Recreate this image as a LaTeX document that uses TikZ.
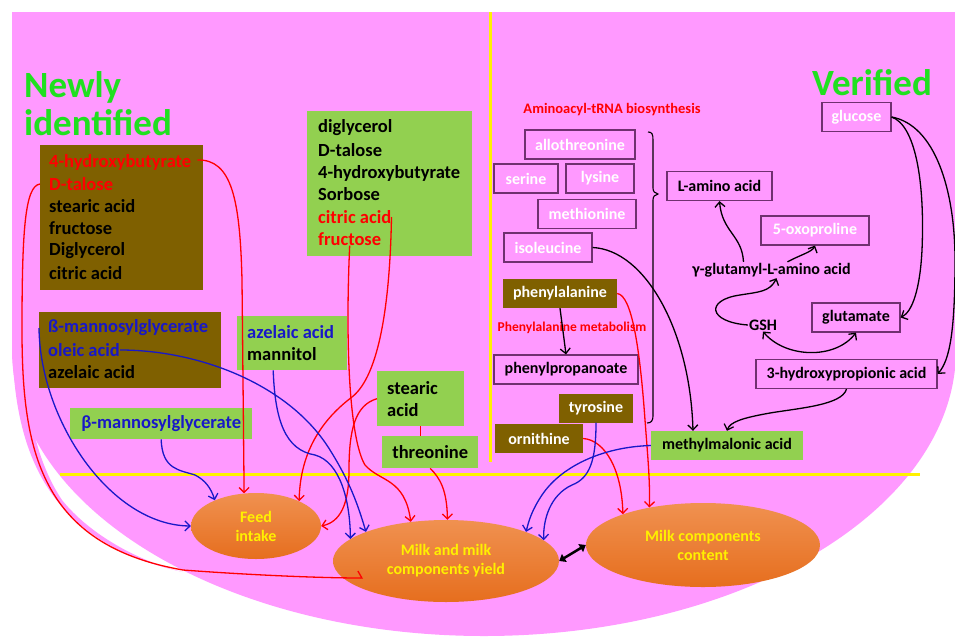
\documentclass[tikz,border=0pt]{standalone}
\usepackage{fontspec}
\setmainfont{Carlito}
\usetikzlibrary{arrows.meta,shapes.geometric,calc}

\definecolor{bgpink}{RGB}{255,153,255}
\definecolor{mudbrown}{RGB}{127,96,0}
\definecolor{leafgreen}{RGB}{146,208,80}
\definecolor{headgreen}{RGB}{32,224,32}
\definecolor{frame}{RGB}{112,48,112}
\definecolor{inkblue}{RGB}{24,24,200}
\definecolor{inkred}{RGB}{255,0,0}
\definecolor{ovaltop}{RGB}{240,145,80}
\definecolor{ovalbot}{RGB}{230,110,30}
\definecolor{sunyellow}{RGB}{255,240,0}

\tikzset{
  every node/.style={font=\bfseries\fontsize{16}{19}\selectfont},
  heading/.style={text=headgreen, inner sep=0pt, font=\bfseries\fontsize{37}{40}\selectfont},
  item/.style={anchor=west, inner sep=0pt, font=\bfseries\fontsize{18.5}{21}\selectfont},
  mudbox/.style={fill=mudbrown, anchor=north west, inner sep=0pt},
  leafbox/.style={fill=leafgreen, anchor=north west, inner sep=0pt},
  tag/.style={draw=frame, line width=1.2pt, text=white, inner sep=0pt, minimum height=29pt},
  mudtag/.style={fill=mudbrown, text=white, inner sep=0pt, minimum height=29pt},
  leaftag/.style={fill=leafgreen, inner sep=0pt, minimum height=29pt},
  oval/.style={ellipse, top color=ovaltop, bottom color=ovalbot, text=sunyellow,
    align=center, inner sep=0pt, font=\bfseries\fontsize{16}{19}\selectfont},
  pathway/.style={text=inkred, inner sep=0pt, font=\bfseries\fontsize{14.5}{16}\selectfont},
  redlink/.style={inkred, line width=1.3pt, -{Straight Barb[length=5pt,width=10pt]}},
  bluelink/.style={inkblue, line width=1.3pt, -{Straight Barb[length=5pt,width=10pt]}},
  blacklink/.style={black, line width=1.3pt, -{Straight Barb[length=5pt,width=10pt]}},
}

\begin{document}
\begin{tikzpicture}[x=1pt,y=-1pt]
  \useasboundingbox (0,0) rectangle (955,640);
  \fill[white] (0,0) rectangle (955,640);

  % background
  \fill[bgpink] (12,12) rectangle (955,350);
  \fill[bgpink] (484,350) ellipse [x radius=472pt, y radius=286pt];
  \fill[bgpink] (12,340) .. controls (14,440) and (38,540) .. (183,572)
    .. controls (140,562) and (90,535) .. (62,500)
    .. controls (42,470) and (30,430) .. (26,380) -- cycle;
  \draw[yellow, line width=3pt] (490,12) -- (490,462);
  \draw[yellow, line width=3pt] (60,474) -- (920,474);

  % titles
  \node[heading, anchor=west] (newly) at (24,87) {Newly};
  \node[heading, anchor=west] (ident) at (24,123) {identified};
  \node[heading] (verif) at (872,83) {Verified};

  % newly identified
  \node[mudbox, minimum width=163pt, minimum height=145pt] (mixbox) at (40,145) {};
  \node[item, text=inkred] (hb) at (49,162) {4-hydroxybutyrate};
  \node[item, text=inkred] (tal) at (49,184) {D-talose};
  \node[item] (sta) at (49,206) {stearic acid};
  \node[item] (fru) at (49,228) {fructose};
  \node[item] (dig) at (49,251) {Diglycerol};
  \node[item] (cit) at (49,273) {citric acid};

  \node[leafbox, minimum width=165pt, minimum height=145pt] (sugbox) at (307,111) {};
  \node[item] (dgl) at (318,128) {diglycerol};
  \node[item] (dtl) at (318,150) {D-talose};
  \node[item] (hbt) at (318,173) {4-hydroxybutyrate};
  \node[item] (sor) at (318,194) {Sorbose};
  \node[item, text=inkred] (cac) at (318,217) {citric acid};
  \node[item, text=inkred] (frc) at (318,239) {fructose};

  \node[mudbox, minimum width=182pt, minimum height=76pt] (oilbox) at (39,312) {};
  \node[item, text=inkblue] (man) at (48,328) {ß-mannosylglycerate};
  \node[item, text=inkblue] (ole) at (48,350) {oleic acid};
  \node[item] (aze) at (48,372) {azelaic acid};

  \node[leafbox, minimum width=110pt, minimum height=54pt] (azbox) at (237,316) {};
  \node[item, text=inkblue] (aza) at (247,332) {azelaic acid};
  \node[item] (mnt) at (247,354) {mannitol};

  \node[leafbox, minimum width=182pt, minimum height=31pt, text=inkblue,
    font=\bfseries\fontsize{18.5}{21}\selectfont] (betabox) at (70,408) {β-mannosylglycerate};

  \node[leafbox, minimum width=87pt, minimum height=55pt] (stbox) at (377,371) {};
  \node[item] (st1) at (387,388) {stearic};
  \node[item] (st2) at (387,410) {acid};
  \node[leafbox, minimum width=96pt, minimum height=32pt,
    font=\bfseries\fontsize{18.5}{21}\selectfont] (thr) at (382,436) {threonine};

  % effects
  \node[oval, minimum width=130pt, minimum height=66pt] (feed) at (256,526) {Feed\\intake};
  \node[oval, minimum width=226pt, minimum height=82pt] (yield) at (446,561) {Milk and milk\\components yield};
  \node[oval, minimum width=234pt, minimum height=84pt] (content) at (703,545) {Milk components\\content};

  % verified
  \node[pathway] (trna) at (612,110) {Aminoacyl-tRNA biosynthesis};
  \node[tag, minimum width=110pt] (allo) at (580,144.5) {allothreonine};
  \node[tag, minimum width=64pt] (ser) at (526,178.5) {serine};
  \node[tag, minimum width=68pt] (lys) at (600,178.5) {lysine};
  \node[tag, minimum width=98pt] (met) at (587,214) {methionine};
  \node[tag, minimum width=88pt] (ile) at (548,247.5) {isoleucine};
  \node[mudtag, minimum width=114pt] (phe) at (560,293.5) {phenylalanine};
  \node[pathway, font=\bfseries\fontsize{13.5}{15}\selectfont] (phem) at (572,328) {Phenylalanine metabolism};
  \node[tag, text=black, minimum width=144pt] (ppa) at (566,369.5) {phenylpropanoate};
  \node[mudtag, minimum width=74pt] (tyr) at (596,408) {tyrosine};
  \node[mudtag, minimum width=88pt] (orn) at (539,438.5) {ornithine};
  \node[leaftag, minimum width=152pt] (mma) at (727,445.5) {methylmalonic acid};
  \node[tag, text=black, minimum width=105pt] (lam) at (719.5,186) {L-amino acid};
  \node[tag, minimum width=108pt] (oxo) at (815,230.5) {5-oxoproline};
  \node[inner sep=1pt] (gga) at (771.5,270) {γ-glutamyl-L-amino acid};
  \node[inner sep=1pt] (gsh) at (763,325) {GSH};
  \node[tag, text=black, minimum width=88pt] (glt) at (856,317.5) {glutamate};
  \node[tag, text=black, minimum width=181pt] (hpa) at (846.5,374) {3-hydroxypropionic acid};
  \node[tag, minimum width=69pt] (glc) at (856.5,117) {glucose};

  % brace
  \draw[line width=1.1pt] (648,132) .. controls (652,132) and (653,134) .. (653,140) -- (653,188)
    .. controls (653,192) and (655,193) .. (658,194) .. controls (655,195) and (653,196) .. (653,200)
    -- (653,416) .. controls (653,421) and (651,423) .. (647,423);

  % red links
  \draw[redlink] ($(hb.east)+(6,-2)$) .. controls (232,159) and (240,200) .. (242,280) -- (feed.110);
  \draw[redlink, -{Straight Barb[left,length=4pt,width=14pt]}] (mixbox.west |- tal.west)
    .. controls (25,186) and (22,230) .. (22,330) .. controls (22,450) and (40,545) .. (183,570)
    .. controls (250,575) and (320,578) .. ($(yield.center)+(-83,17)$);
  \draw[redlink] (frc.south) .. controls (345,350) and (350,440) .. (365,465)
    .. controls (380,482) and (405,478) .. (yield.132);
  \draw[redlink] (cac.east) .. controls (390,300) and (380,375) .. (352,397)
    .. controls (315,425) and (300,460) .. (feed.30);
  \draw[redlink] (stbox.west) .. controls (355,405) and (349,430) .. (349,470)
    .. controls (349,505) and (340,522) .. (feed.east);
  \draw[inkred, line width=1.3pt] (stbox.south) -- (stbox.south |- thr.north);
  \draw[redlink] (thr.south) .. controls (440,478) and (447,490) .. (yield.88);
  \draw[redlink] (phe.east) .. controls (632,295) and (640,350) .. (645,420)
    .. controls (648,460) and (650,480) .. (content.145);
  \draw[redlink] (orn.east) .. controls (605,440) and (622,470) .. (content.159);

  % blue links
  \draw[bluelink] (oilbox.west |- man.west) .. controls (40,420) and (110,525) .. (feed.west);
  \draw[bluelink] (ole.east) .. controls (200,350) and (290,385) .. (330,450)
    .. controls (350,482) and (358,505) .. (yield.160);
  \draw[bluelink] (betabox.south) .. controls (162,470) and (180,470) .. (195,475)
    .. controls (205,480) and (211,488) .. (feed.148);
  \draw[bluelink] (azbox.south) ++(-19,0) .. controls (275,420) and (285,450) .. (315,455)
    .. controls (340,462) and (350,500) .. (yield.167);
  \draw[bluelink] (tyr.south) .. controls (596,460) and (590,478) .. (572,485)
    .. controls (550,495) and (543,520) .. (yield.12);
  \draw[bluelink] (mma.west) .. controls (600,447) and (560,468) .. (542,495)
    .. controls (532,510) and (529,520) .. (yield.20);

  % black links
  \draw[blacklink] (ile.east) .. controls (645,250) and (690,330) .. ($(mma.north)+(-34,0)$);
  \draw[blacklink] (hpa.south) .. controls (842,405) and (800,408) .. (770,413)
    .. controls (742,418) and (730,422) .. (mma.north);
  \draw[blacklink] (glc.east) .. controls (915,125) and (925,180) .. (922,250)
    .. controls (920,290) and (912,312) .. (glt.east);
  \draw[blacklink] (glc.east) .. controls (935,125) and (955,190) .. (955,260)
    .. controls (955,330) and (950,360) .. (hpa.east);
  \draw[blacklink] ($(gga.north)+(-28,0)$) .. controls (742,235) and (722,232) .. (lam.south);
  \draw[blacklink] ($(gga.north)+(16,0)$) .. controls (800,255) and (812,252) .. (oxo.south);
  \draw[blacklink] (gsh.west) .. controls (708,322) and (705,300) .. (740,295)
    .. controls (758,292) and (770,292) .. ($(gga.south)+(5,0)$);
  \draw[blacklink, {Straight Barb[length=5pt,width=10pt]}-{Straight Barb[length=5pt,width=10pt]}]
    (gsh.south) .. controls (785,358) and (835,360) .. (glt.south);
  \draw[blacklink] (phe.south) -- (ppa.north);
  \draw[line width=2.5pt, {Triangle[length=6pt,width=9pt]}-{Triangle[length=6pt,width=9pt]}]
    (yield.east) -- (content.west);
\end{tikzpicture}
\end{document}
